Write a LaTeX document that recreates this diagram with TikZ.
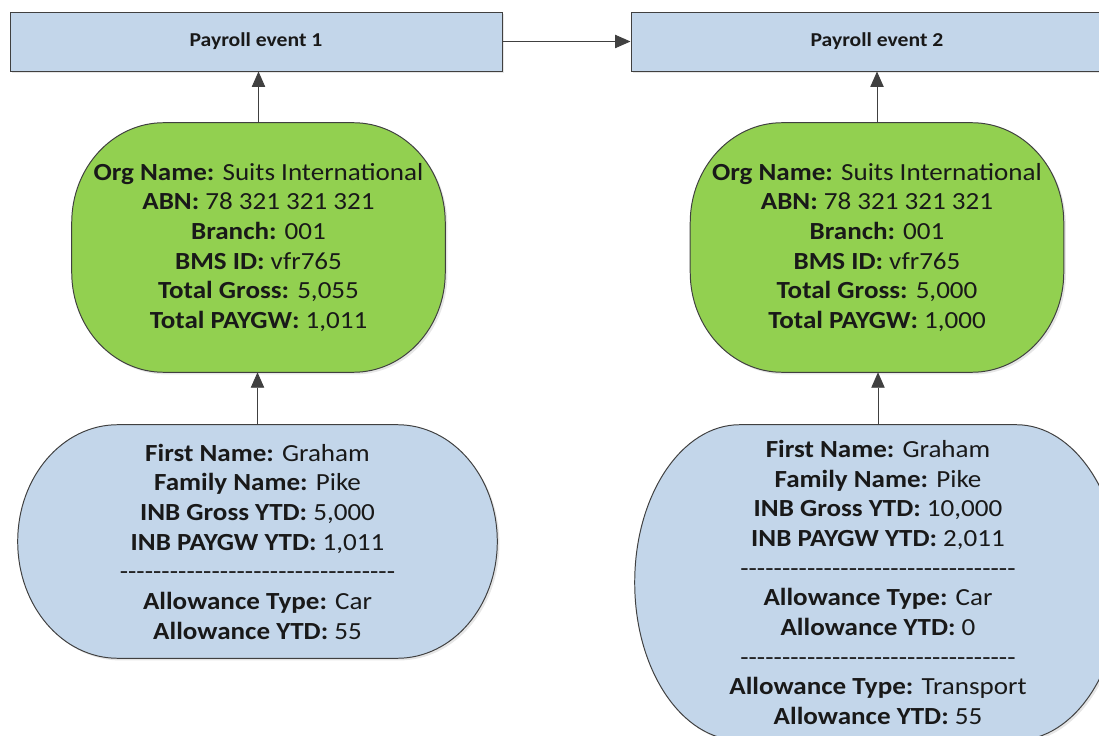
\documentclass[tikz,border=0pt]{standalone}
\usepackage{fontspec}
\setmainfont{Carlito}[FakeStretch=1.1]
\usetikzlibrary{arrows.meta,calc,backgrounds,shadows}
\definecolor{evblue}{HTML}{C3D6EA}
\definecolor{orggreen}{HTML}{92D050}
\definecolor{edge}{HTML}{404040}

% rounded box with elliptic corners, taken from a node's corners
\newcommand{\ovalpath}[3]{%
  let \p1=(#1.south west), \p2=(#1.north east) in
  (\x1+#2,\y2) -- (\x2-#2,\y2)
  arc[start angle=90, end angle=0, x radius=#2, y radius=#3]
  -- (\x2,\y1+#3)
  arc[start angle=0, end angle=-90, x radius=#2, y radius=#3]
  -- (\x1+#2,\y1)
  arc[start angle=270, end angle=180, x radius=#2, y radius=#3]
  -- (\x1,\y2-#3)
  arc[start angle=180, end angle=90, x radius=#2, y radius=#3]
  -- cycle}
\newcommand{\sepline}{\hbox to 196pt{\xleaders\hbox{-}\hfill}}

\begin{document}
\begin{tikzpicture}[
  evbox/.style={rectangle, draw=edge, fill=evblue, line width=0.7pt,
    minimum width=12.3cm, minimum height=1.475cm, text=black!90,
    font=\fontsize{14}{17}\selectfont\bfseries,
    drop shadow={shadow xshift=1.5pt, shadow yshift=-1.5pt, opacity=0.2}},
  card/.style={align=center, inner sep=0pt, text=black!90,
    font=\fontsize{17.5}{21.1}\selectfont},
  outline/.style={draw=edge, line width=0.7pt,
    drop shadow={shadow xshift=1.5pt, shadow yshift=-1.5pt, opacity=0.2}},
  link/.style={draw=edge, line width=0.7pt, -{Triangle[length=11pt,width=9.5pt]}}
]
  \useasboundingbox (0,0) rectangle (27.475,18.375);
  \clip (0,0) rectangle (27.475,18.375);

  % Payroll events
  \node[evbox] (ev1) at (6.4,17.3375) {Payroll event 1};
  \node[evbox] (ev2) at (21.925,17.3375) {Payroll event 2};

  % Organisation summaries
  \node[card, minimum width=9.325cm, minimum height=6.225cm] (org1) at (6.4625,12.1875)
    {\textbf{Org Name:} Suits International\\
     \textbf{ABN:} 78 321 321 321\\
     \textbf{Branch:} 001\\
     \textbf{BMS ID:} vfr765\\
     \textbf{Total Gross:} 5,055\\
     \textbf{Total PAYGW:} 1,011};
  \node[card, minimum width=9.325cm, minimum height=6.225cm] (org2) at (21.925,12.1875)
    {\textbf{Org Name:} Suits International\\
     \textbf{ABN:} 78 321 321 321\\
     \textbf{Branch:} 001\\
     \textbf{BMS ID:} vfr765\\
     \textbf{Total Gross:} 5,000\\
     \textbf{Total PAYGW:} 1,000};

  % Employee records
  \node[card, minimum width=11.975cm, minimum height=5.825cm] (emp1) at (6.4375,4.8375)
    {\textbf{First Name:} Graham\\
     \textbf{Family Name:} Pike\\
     \textbf{INB Gross YTD:} 5,000\\
     \textbf{INB PAYGW YTD:} 1,011\\
     \sepline\\
     \textbf{Allowance Type:} Car\\
     \textbf{Allowance YTD:} 55};
  \node[card, minimum width=12.15cm, minimum height=7.875cm] (emp2) at (21.95,3.8125)
    {\textbf{First Name:} Graham\\
     \textbf{Family Name:} Pike\\
     \textbf{INB Gross YTD:} 10,000\\
     \textbf{INB PAYGW YTD:} 2,011\\
     \sepline\\
     \textbf{Allowance Type:} Car\\
     \textbf{Allowance YTD:} 0\\
     \sepline\\
     \textbf{Allowance Type:} Transport\\
     \textbf{Allowance YTD:} 55};

  % Shapes behind the text
  \begin{scope}[on background layer]
    \clip (0,0) rectangle (27.475,18.375);
    \path[outline, fill=orggreen] \ovalpath{org1}{2.3cm}{2.5cm};
    \path[outline, fill=orggreen] \ovalpath{org2}{2.3cm}{2.5cm};
    \path[outline, fill=evblue] \ovalpath{emp1}{2.5cm}{2.9125cm};
    \path[outline, fill=evblue] \ovalpath{emp2}{2.625cm}{3.9375cm};
  \end{scope}

  % Connectors
  \draw[link] (ev1.east) -- (ev2.west);
  \draw[link] (org1.north) -- (org1.north |- ev1.south);
  \draw[link] (org2.north) -- (org2.north |- ev2.south);
  \draw[link] (emp1.north) -- (emp1.north |- org1.south);
  \draw[link] (emp2.north) -- (emp2.north |- org2.south);
\end{tikzpicture}
\end{document}
